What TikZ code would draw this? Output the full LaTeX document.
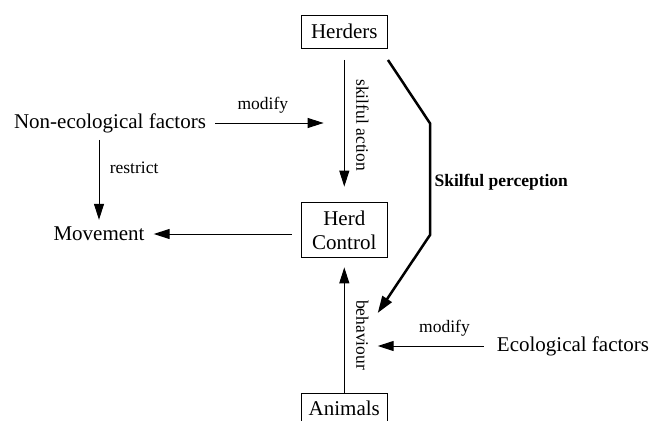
\documentclass[tikz,border=0pt]{standalone}
\usepackage{fontspec}
\setmainfont{Liberation Serif}
\usetikzlibrary{arrows.meta, positioning, calc}

\begin{document}
\begin{tikzpicture}[x=1pt, y=-1pt,
  blk/.style={rectangle, draw, line width=1.3pt,
    minimum width=86pt, minimum height=33pt,
    align=center, font=\fontsize{21}{24}\selectfont},
  fac/.style={font=\fontsize{21}{24}\selectfont, inner sep=7pt},
  arr/.style={-{Triangle[length=16pt, width=10pt]}, line width=1pt},
  perc/.style={-{Triangle[length=17pt, width=11pt]}, line width=2.5pt},
  lbl/.style={font=\fontsize{17.5}{20}\selectfont},
  vlbl/.style={lbl, rotate=-90, anchor=south, inner sep=0pt, outer sep=12pt},
]
\useasboundingbox (0,0) rectangle (660,420);
% boxes
\node[blk] (herders) at (344.3, 31.8) {Herders};
\node[blk, minimum height=55.4pt] (control) at (344.3, 230) {Herd\\Control};
\node[blk, anchor=north, minimum height=29pt, inner ysep=2pt] (animals) at (344.3, 393) {Animals};
% factors
\node[fac] (noneco)   at (110, 123) {Non-ecological factors};
\node[fac] (movement) at (99, 234)  {Movement};
\node[fac, inner xsep=13pt] (eco) at (573, 346) {Ecological factors};
% free ends
\coordinate (modend)  at (323.6, 123);
\coordinate (behend)  at (377.7, 346);
\coordinate (bendA)   at (430, 123.3);
\coordinate (bendB)   at (430, 235);
\coordinate (percend) at (377.7, 313);

\draw[arr, shorten <=11pt, shorten >=15pt]
  (herders.south) -- (control.north) node[midway, vlbl] {skilful action};
\draw[arr, shorten >=9pt]
  (animals.north) -- (control.south) node[pos=0.43, vlbl] {behaviour};
\draw[arr, shorten <=2pt]
  (noneco.east) -- (modend) node[pos=0.45, above=6pt, lbl] {modify};
\draw[arr]
  (noneco.south -| movement) -- (movement) node[pos=0.35, right=7pt, lbl] {restrict};
\draw[arr, shorten <=9pt, shorten >=2pt]
  (control.west |- movement) -- (movement);
\draw[arr]
  (eco) -- (behend) node[pos=0.37, above=6pt, lbl] {modify};
\draw[perc]
  ($(herders.south east)+(0,11)$) -- (bendA) -- (bendB)
  node[pos=0.53, right, lbl] {\bfseries Skilful perception}
  -- (percend);
\end{tikzpicture}
\end{document}
